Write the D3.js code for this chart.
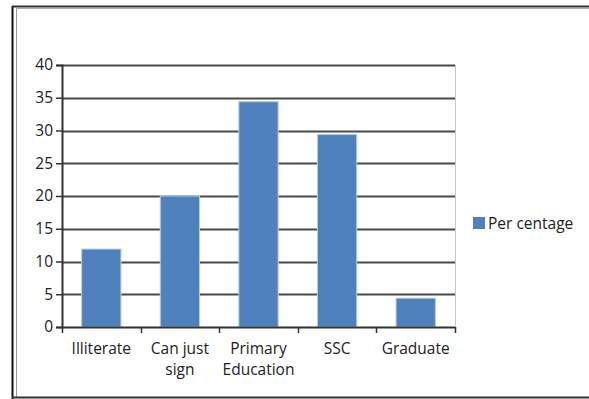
<!DOCTYPE html>
<html>
<head>
<meta charset="utf-8">
<script src="https://cdn.jsdelivr.net/npm/d3@7"></script>
<style>
  body { margin: 0; background: #fff; }
  text { font-family: "Open Sans", "Liberation Sans", sans-serif; fill: #222; }
</style>
</head>
<body>
<svg></svg>
<script>
var categories = [["Illiterate"], ["Can just", "sign"], ["Primary", "Education"], ["SSC"], ["Graduate"]];
var values = [11.9, 20, 34.4, 29.4, 4.4];
var yTicks = [0, 5, 10, 15, 20, 25, 30, 35, 40];
var seriesName = "Per centage";

var svg = d3.select("svg")
    .attr("width", 589)
    .attr("height", 399);

// outer frame (double line on the left)
svg.append("line").attr("x1", 12.5).attr("x2", 12.5).attr("y1", 6).attr("y2", 399)
    .attr("stroke", "#111").attr("stroke-width", 2);
svg.append("line").attr("x1", 16.5).attr("x2", 16.5).attr("y1", 8).attr("y2", 397)
    .attr("stroke", "#999").attr("stroke-width", 1);
svg.append("line").attr("x1", 12).attr("x2", 589).attr("y1", 6.5).attr("y2", 6.5)
    .attr("stroke", "#333").attr("stroke-width", 2);
svg.append("line").attr("x1", 16).attr("x2", 589).attr("y1", 8.5).attr("y2", 8.5)
    .attr("stroke", "#aaa").attr("stroke-width", 1);
svg.append("line").attr("x1", 12).attr("x2", 589).attr("y1", 397.5).attr("y2", 397.5)
    .attr("stroke", "#333").attr("stroke-width", 2);

var x = d3.scaleBand()
    .domain(d3.range(categories.length))
    .range([62, 455])
    .paddingInner(0.5)
    .paddingOuter(0.25);

var y = d3.scaleLinear()
    .domain([0, 40])
    .range([327, 65]);

// gridlines
svg.append("g").selectAll("line")
    .data(yTicks.filter(function(t){ return t > 0; }))
    .enter().append("line")
    .attr("x1", 62).attr("x2", 455)
    .attr("y1", function(d){ return Math.round(y(d)) + 0.5; })
    .attr("y2", function(d){ return Math.round(y(d)) + 0.5; })
    .attr("stroke", "#4a4a4a").attr("stroke-width", 2);

// right plot border
svg.append("line").attr("x1", 455.5).attr("x2", 455.5).attr("y1", 65).attr("y2", 327)
    .attr("stroke", "#c8c8c8");

// bars
svg.append("g").selectAll("rect")
    .data(values).enter()
    .append("rect")
    .attr("x", function(d, i){ return x(i); })
    .attr("y", function(d){ return y(d); })
    .attr("width", x.bandwidth())
    .attr("height", function(d){ return y(0) - y(d); })
    .attr("fill", "#4f81bd")
    .attr("stroke", "#b9cde5")
    .attr("stroke-width", 1);

// y axis
var yAxis = svg.append("g")
    .attr("transform", "translate(62,0)")
    .call(d3.axisLeft(y).tickValues(yTicks).tickSize(6).tickPadding(3));
yAxis.select(".domain").attr("stroke", "#333").attr("stroke-width", 2);
yAxis.selectAll(".tick line").attr("stroke", "#333").attr("stroke-width", 1.5);
yAxis.selectAll("text").attr("font-size", 15.5).attr("fill", "#222")
    .attr("font-family", "'Open Sans', sans-serif");

// x axis baseline and ticks
var tickPos = d3.range(categories.length + 1).map(function(i){ return 62 + i * (455 - 62) / categories.length; });
svg.append("line").attr("x1", 62).attr("x2", 455).attr("y1", 327.5).attr("y2", 327.5)
    .attr("stroke", "#333").attr("stroke-width", 2);
svg.append("g").selectAll("line")
    .data(tickPos).enter().append("line")
    .attr("x1", function(d){ return Math.round(d) + 0.5; })
    .attr("x2", function(d){ return Math.round(d) + 0.5; })
    .attr("y1", 327).attr("y2", 333)
    .attr("stroke", "#333").attr("stroke-width", 1.5);

// category labels
var labels = svg.append("g").selectAll("text")
    .data(categories).enter()
    .append("text")
    .attr("text-anchor", "middle")
    .attr("font-size", 15.5)
    .attr("x", function(d, i){ return x(i) + x.bandwidth() / 2; })
    .attr("y", 354);
labels.selectAll("tspan")
    .data(function(d){ return d; }).enter()
    .append("tspan")
    .attr("x", function(){ return d3.select(this.parentNode).attr("x"); })
    .attr("dy", function(d, i){ return i === 0 ? 0 : 21; })
    .text(function(d){ return d; });

// legend
var legend = svg.append("g").attr("transform", "translate(473,217)");
legend.append("rect").attr("width", 12).attr("height", 12).attr("fill", "#4f81bd");
legend.append("text").attr("x", 15).attr("y", 12).attr("font-size", 15.5).text(seriesName);
</script>
</body>
</html>
